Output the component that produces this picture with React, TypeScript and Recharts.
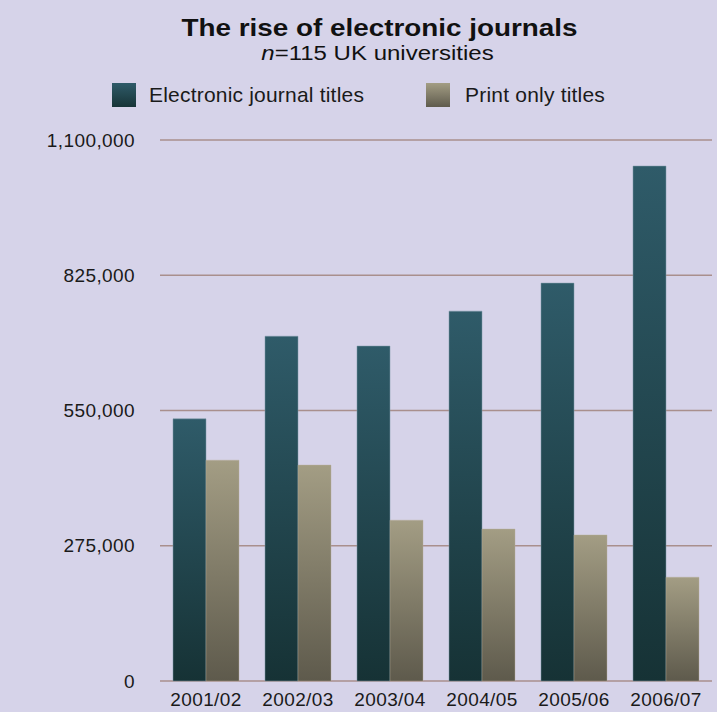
import { BarChart, Bar, XAxis, YAxis, CartesianGrid, Legend } from 'recharts';

const YEARS = ['2001/02', '2002/03', '2003/04', '2004/05', '2005/06', '2006/07'];
const ELECTRONIC = [533000, 701000, 681000, 752000, 809000, 1047000];
const PRINT_ONLY = [449000, 439000, 327000, 309000, 297000, 211000];
const Y_TICKS = [0, 275000, 550000, 825000, 1100000];

const data = YEARS.map((year, i) => ({ year, electronic: ELECTRONIC[i], print: PRINT_ONLY[i] }));

const FONT = '"Liberation Sans", Arial, Helvetica, sans-serif';
const BG = '#d6d3e9';
const GRID = '#a98f8d';

const legendItems = [
  { label: 'Electronic journal titles', grad: 'linear-gradient(#2f5b69, #173437)', gap: 13 },
  { label: 'Print only titles', grad: 'linear-gradient(#a39d84, #5f5b4d)', gap: 15 },
];

function LegendContent() {
  return (
    <div style={{ display: 'flex', alignItems: 'center', fontFamily: FONT, fontSize: 21, color: '#1a1a1a', paddingLeft: 112 }}>
      {legendItems.map((item, i) => (
        <div key={item.label} style={{ display: 'flex', alignItems: 'center', marginLeft: i ? 62 : 0 }}>
          <span style={{ display: 'inline-block', width: 24, height: 24, background: item.grad, marginRight: item.gap }} />
          <span style={{ letterSpacing: 0.2 }}>{item.label}</span>
        </div>
      ))}
    </div>
  );
}

export default function App() {
  return (
    <div style={{ position: 'absolute', left: 0, top: 0, width: 717, height: 712, background: BG, overflow: 'hidden' }}>
      <div style={{ position: 'absolute', top: 14, left: 42, width: 675, textAlign: 'center', fontFamily: FONT, fontWeight: 'bold', fontSize: 24, lineHeight: '28px', transform: 'scaleX(1.16)', color: '#111' }}>
        The rise of electronic journals
      </div>
      <div style={{ position: 'absolute', top: 41, left: 38, width: 679, textAlign: 'center', fontFamily: FONT, fontSize: 20, lineHeight: '24px', transform: 'scaleX(1.2)', color: '#111' }}>
        <i>n</i>=115 UK universities
      </div>
      <BarChart
        width={717}
        height={712}
        data={data}
        margin={{ top: 140, right: 5, bottom: 0, left: 0 }}
        barCategoryGap={13}
        barGap={0}
      >
        <defs>
          <linearGradient id="gradE" x1="0" y1="0" x2="0" y2="1">
            <stop offset="0%" stopColor="#2f5b69" />
            <stop offset="100%" stopColor="#163235" />
          </linearGradient>
          <linearGradient id="gradP" x1="0" y1="0" x2="0" y2="1">
            <stop offset="0%" stopColor="#a39d84" />
            <stop offset="100%" stopColor="#5e5a4c" />
          </linearGradient>
        </defs>
        <CartesianGrid vertical={false} stroke={GRID} strokeWidth={1.5} />
        <XAxis
          dataKey="year"
          height={31}
          axisLine={false}
          tickLine={false}
          tickSize={0}
          tickMargin={12}
          tick={{ fontFamily: FONT, fontSize: 19, fill: '#1a1a1a', letterSpacing: 0.4 }}
        />
        <YAxis
          width={160}
          domain={[0, 1100000]}
          ticks={Y_TICKS}
          axisLine={false}
          tickLine={false}
          tickSize={0}
          tickMargin={25}
          tickFormatter={(v: number) => v.toLocaleString('en-US')}
          tick={{ fontFamily: FONT, fontSize: 19, fill: '#1a1a1a', letterSpacing: 0.4 }}
        />
        <Legend
          layout="horizontal"
          verticalAlign="middle"
          align="center"
          wrapperStyle={{ top: 83, left: 0, width: 717 }}
          content={() => <LegendContent />}
        />
        <Bar dataKey="electronic" name="Electronic journal titles" fill="url(#gradE)" stroke="#7e9aa8" strokeOpacity={0.5} isAnimationActive={false} />
        <Bar dataKey="print" name="Print only titles" fill="url(#gradP)" stroke="#b8b29b" strokeOpacity={0.4} isAnimationActive={false} />
      </BarChart>
    </div>
  );
}
